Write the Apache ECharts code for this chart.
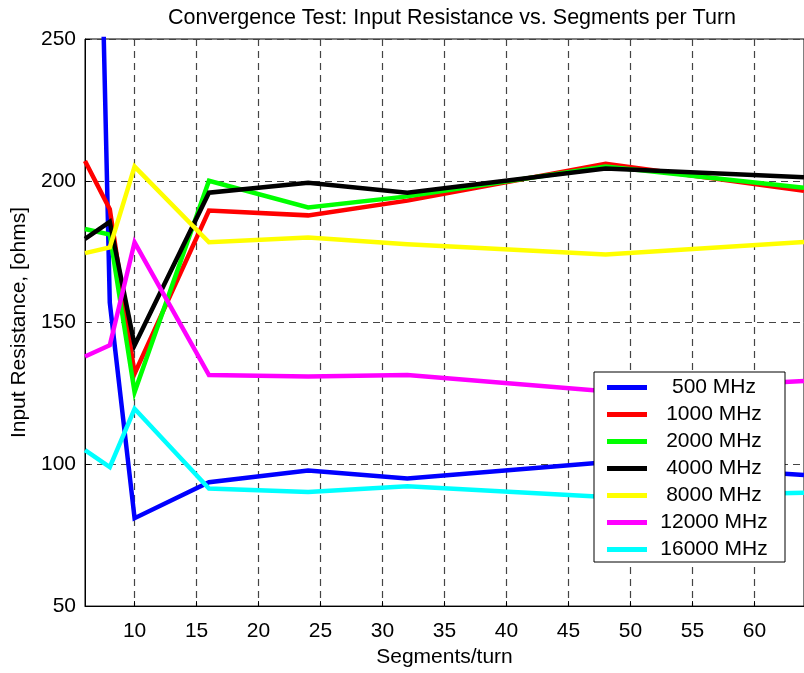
<!DOCTYPE html>
<html>
<head>
<meta charset="utf-8">
<script src="https://cdn.jsdelivr.net/npm/echarts@6/dist/echarts.min.js"></script>
<style>
html,body{margin:0;padding:0;background:#fff;}
#chart{width:804px;height:673px;}
</style>
</head>
<body>
<div id="chart"></div>
<script>
// ---- data ----
const segments = [6, 8, 10, 16, 24, 32, 48, 64];
const seriesNames = ['500 MHz', '1000 MHz', '2000 MHz', '4000 MHz', '8000 MHz', '12000 MHz', '16000 MHz'];
const r500   = [540, 157, 81, 93.7, 97.8, 95, 100.7, 96.2];
const r1000  = [207, 190, 132, 189.5, 187.8, 193, 206, 196.5];
const r2000  = [183, 181, 125.5, 200, 190.6, 194.5, 205, 197.5];
const r4000  = [179.5, 185.5, 142, 195.8, 199.3, 195.8, 204.3, 201.2];
const r8000  = [174.5, 176.5, 205, 178.3, 180, 177.6, 174, 178.4];
const r12000 = [138, 142, 178.3, 131.5, 131, 131.5, 125.8, 129.4];
const r16000 = [105, 99, 119.6, 91.5, 90.2, 92.3, 88.5, 90];
const xTicks = [10, 15, 20, 25, 30, 35, 40, 45, 50, 55, 60];
const yTicks = [50, 100, 150, 200, 250];

const allValues = [r500, r1000, r2000, r4000, r8000, r12000, r16000];
const colors = ['#0000ff', '#ff0000', '#00ff00', '#000000', '#ffff00', '#ff00ff', '#00ffff'];

const FONT = 'Liberation Sans, Arial, Helvetica, sans-serif';
const chart = echarts.init(document.getElementById('chart'), null, {renderer: 'canvas'});

const gridLine = {show: true, lineStyle: {color: '#444', width: 1.2, type: [7, 5]}};

const option = {
  animation: false,
  backgroundColor: '#ffffff',
  title: {
    text: 'Convergence Test: Input Resistance vs. Segments per Turn',
    left: 447, top: 2, textAlign: 'center',
    textStyle: {fontFamily: FONT, fontSize: 21.5, fontWeight: 'normal', color: '#000'}
  },
  grid: {left: 85, right: -6, top: 39, bottom: 61, show: true, borderColor: '#000', borderWidth: 1, backgroundColor: 'transparent', containLabel: false},
  xAxis: {
    type: 'value', min: 6, max: 64,
    name: 'Segments/turn', nameLocation: 'middle', nameGap: 37,
    nameTextStyle: {fontFamily: FONT, fontSize: 21, color: '#000'},
    axisLine: {show: true, onZero: false, lineStyle: {color: '#000', width: 1}},
    axisTick: {show: true, inside: true, length: 5, customValues: xTicks, lineStyle: {color: '#000'}},
    axisLabel: {show: true, customValues: xTicks, margin: 15, fontFamily: FONT, fontSize: 21, color: '#000'},
    splitLine: Object.assign({customValues: xTicks}, gridLine)
  },
  yAxis: {
    type: 'value', min: yTicks[0], max: yTicks[yTicks.length - 1], interval: 50,
    name: 'Input Resistance, [ohms]', nameLocation: 'middle', nameGap: 49,
    nameTextStyle: {fontFamily: FONT, fontSize: 21, color: '#000'},
    axisLine: {show: true, onZero: false, lineStyle: {color: '#000', width: 1}},
    axisTick: {show: true, inside: true, length: 5, lineStyle: {color: '#000'}},
    axisLabel: {show: true, margin: 9, fontFamily: FONT, fontSize: 21, color: '#000'},
    splitLine: gridLine
  },
  legend: {
    orient: 'vertical', left: 594, top: 372,
    padding: [5, 9, 2, 13], itemGap: 6,
    itemWidth: 40, itemHeight: 5, icon: 'rect',
    backgroundColor: '#fff', borderColor: '#000', borderWidth: 1,
    data: seriesNames,
    formatter: function (n) { return '{a|' + n + '}'; },
    textStyle: {
      fontFamily: FONT, fontSize: 21, color: '#000',
      rich: {a: {width: 124, align: 'center', fontFamily: FONT, fontSize: 21, lineHeight: 21, color: '#000'}}
    }
  },
  series: seriesNames.map(function (name, i) {
    return {
      name: name, type: 'line', symbol: 'none', showSymbol: false, clip: true,
      data: segments.map(function (x, j) { return [x, allValues[i][j]]; }),
      itemStyle: {color: colors[i]},
      lineStyle: {color: colors[i], width: 4.5, join: 'miter'}
    };
  })
};
chart.setOption(option);
</script>
</body>
</html>
